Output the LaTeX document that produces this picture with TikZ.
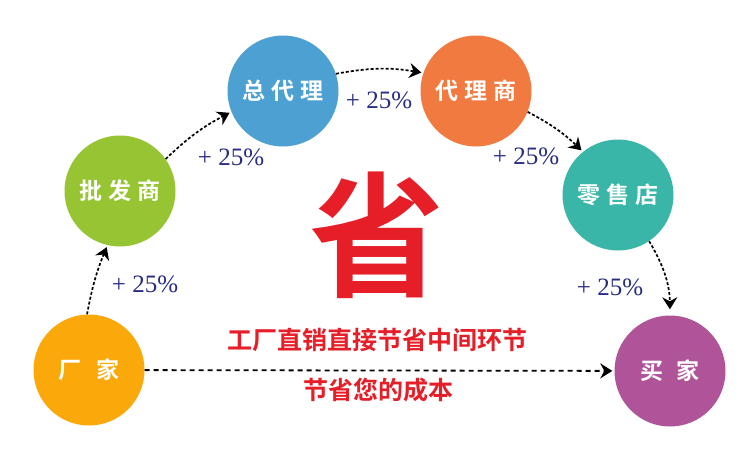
\documentclass[tikz,border=0pt]{standalone}
\usepackage{xcolor}
\usepackage{fontspec}
\usetikzlibrary{arrows.meta}
\setmainfont{Liberation Serif}
\newfontfamily\cjk{Noto Sans CJK SC}[BoldFont={Noto Sans CJK SC Bold}]
\definecolor{FactoryOrange}{RGB}{250,168,10}
\definecolor{WholesaleGreen}{RGB}{150,196,50}
\definecolor{AgentBlue}{RGB}{77,160,210}
\definecolor{DealerOrange}{RGB}{240,122,64}
\definecolor{RetailTeal}{RGB}{58,182,168}
\definecolor{BuyerPurple}{RGB}{176,84,154}
\definecolor{MarkupNavy}{RGB}{40,45,130}
\definecolor{SaveRed}{RGB}{230,30,40}

\tikzset{
  stage/.style={circle,minimum size=111pt,inner sep=0pt,text=white,
                font=\cjk\bfseries\fontsize{23}{23}\selectfont},
  markup/.style={text=MarkupNavy,font=\fontsize{25}{25}\selectfont},
  flow/.style={line width=1.7pt,dash pattern=on 3pt off 2pt,shorten >=2pt,
               -{Stealth[length=12pt,width=15pt,inset=4pt]}},
  saving/.style={text=SaveRed,font=\cjk\bfseries\fontsize{25}{25}\selectfont}
}

\begin{document}
\begin{tikzpicture}[x=1pt,y=-1pt]
  \useasboundingbox[fill=white] (0,0) rectangle (747,453);

  % the chain of stages
  \node[stage,fill=FactoryOrange]  (cj)  at (89,370)  {厂\kern15pt 家};
  \node[stage,fill=WholesaleGreen] (pfs) at (120,191) {批\kern6pt 发\kern6pt 商};
  \node[stage,fill=AgentBlue]      (zdl) at (283,91)  {总\kern6pt 代\kern6pt 理};
  \node[stage,fill=DealerOrange]   (dls) at (476,91)  {代\kern6pt 理\kern6pt 商};
  \node[stage,fill=RetailTeal]     (lsd) at (618,195) {零\kern6pt 售\kern6pt 店};
  \node[stage,fill=BuyerPurple]    (mj)  at (670,371) {买\kern13pt 家};

  \draw[flow] (cj.92) to[bend left=6] (pfs.-103);
  \draw[flow] (pfs.35) to[bend left=8] (zdl.202);
  \draw[flow] (zdl.18) to[bend left=10] (dls.161);
  \draw[flow] (dls.-22) to[bend left=8] (lsd.129);
  \draw[flow,shorten >=6pt] (lsd.-56) to[bend left=15] (mj.90);
  \draw[flow,line width=1.8pt,dash pattern=on 5pt off 4pt] (cj) -- (mj);

  % markups
  \node[markup] (m1) at (145,284) {+ 25\%};
  \node[markup] (m2) at (231,157) {+ 25\%};
  \node[markup] (m3) at (379,100) {+ 25\%};
  \node[markup] (m4) at (526,156) {+ 25\%};
  \node[markup] (m5) at (610,287) {+ 25\%};

  \node[text=SaveRed,font=\cjk\bfseries\fontsize{135}{135}\selectfont] (sheng) at (377,235) {省};
  \node[saving] (line1) at (377,340) {工厂直销直接节省中间环节};
  \node[saving] (line2) at (378,390) {节省您的成本};
\end{tikzpicture}
\end{document}
